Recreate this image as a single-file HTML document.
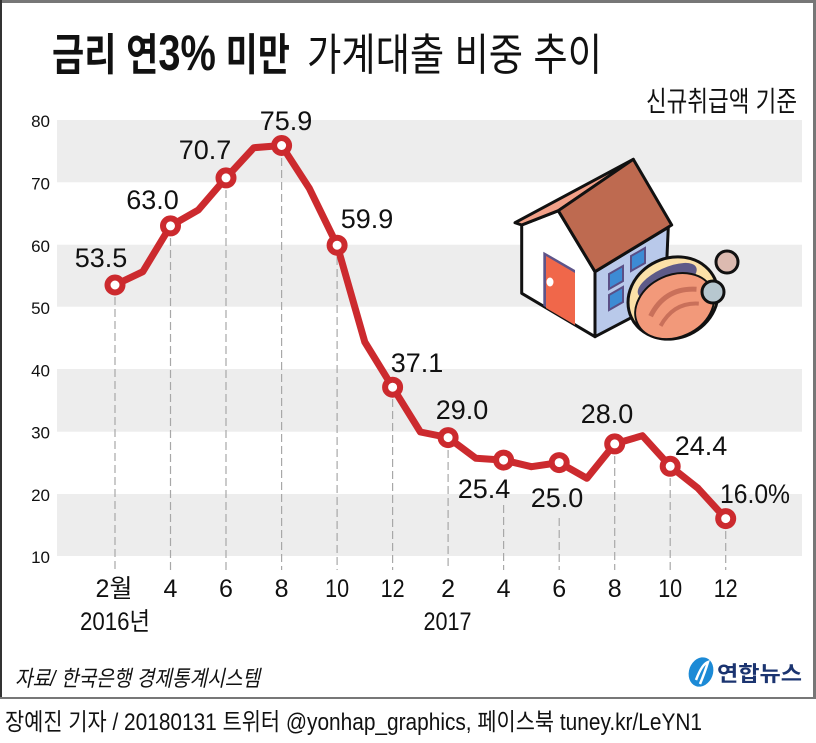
<!DOCTYPE html>
<html>
<head>
<meta charset="utf-8">
<style>
  html,body{margin:0;padding:0;background:#fff;}
  svg{display:block;}
  text{font-family:"Liberation Sans","Noto Sans CJK KR",sans-serif;fill:#111;}
</style>
</head>
<body>
<svg width="816" height="743" viewBox="0 0 816 743" xmlns="http://www.w3.org/2000/svg">
  <rect x="0" y="0" width="816" height="743" fill="#fff"/>
  <!-- frame -->
  <rect x="0" y="0" width="816" height="3" fill="#777"/>
  <rect x="0" y="0" width="2" height="699" fill="#333"/>
  <rect x="813" y="0" width="3" height="699" fill="#777"/>
  <rect x="0" y="697" width="816" height="2" fill="#777"/>

  <!-- title -->
  <text x="52" y="70" font-size="44" font-weight="bold" textLength="238" lengthAdjust="spacingAndGlyphs">금리 연<tspan font-size="50">3%</tspan> 미만</text>
  <text x="307" y="70" font-size="44" textLength="295" lengthAdjust="spacingAndGlyphs">가계대출 비중 추이</text>
  <text x="646" y="111" font-size="28" textLength="151" lengthAdjust="spacingAndGlyphs">신규취급액 기준</text>

  <!-- bands -->
  <g fill="#ededed">
    <rect x="57" y="120" width="745" height="62.3"/>
    <rect x="57" y="244.7" width="745" height="62"/>
    <rect x="57" y="369" width="745" height="62.7"/>
    <rect x="57" y="494" width="745" height="62"/>
  </g>

  <!-- y labels -->
  <g font-size="17" text-anchor="end">
    <text x="50" y="127">80</text>
    <text x="50" y="189.5">70</text>
    <text x="50" y="252">60</text>
    <text x="50" y="314">50</text>
    <text x="50" y="376.5">40</text>
    <text x="50" y="438.5">30</text>
    <text x="50" y="501">20</text>
    <text x="50" y="563">10</text>
  </g>

  <!-- house illustration -->
  <g stroke="#111" stroke-width="3" stroke-linejoin="round">
    <polygon points="521.7,225 558.3,210.7 595,271.7 595,336.7 521.7,293.3" fill="#fff"/>
    <polygon points="595,271.7 668.3,227.3 665,300 595,336.7" fill="#b9c9ea"/>
    <polygon points="515,222.7 633.3,159.3 558.3,210.7 521.7,225" fill="#f2a088"/>
    <polygon points="558.3,210.7 633.3,159.3 671.7,225 595,271.7" fill="#be6a50"/>
  </g>
  <!-- door -->
  <polygon points="543.3,251.7 575,270 575,325 543.3,305.7" fill="#5e5489"/>
  <polygon points="546,256 575,273 575,325 546,308" fill="#f0674a"/>
  <ellipse cx="550" cy="282" rx="3.5" ry="4.5" fill="#fff"/>
  <!-- windows -->
  <g fill="#3d8bd4" stroke="#5a4f86" stroke-width="2">
    <polygon points="609,274 623,266 623,281 609,289"/>
    <polygon points="631,256 645,248 645,263 631,271"/>
    <polygon points="609,295 623,287 623,302 609,310"/>
  </g>
  <!-- wallet -->
  <g transform="rotate(-25 673 298)">
    <ellipse cx="673" cy="298" rx="46" ry="40" fill="#fbe0a8" stroke="#111" stroke-width="3"/>
    <ellipse cx="675" cy="280" rx="32" ry="13" fill="#5e5a88"/>
    <ellipse cx="671" cy="306" rx="41" ry="31" fill="#f2997a" stroke="#111" stroke-width="2"/>
    <path d="M645,305 Q670,285 698,300" fill="none" stroke="#c9705a" stroke-width="5"/>
    <path d="M650,318 Q672,302 694,314" fill="none" stroke="#c9705a" stroke-width="4"/>
  </g>
  <circle cx="727" cy="262" r="11" fill="#dcbab0" stroke="#111" stroke-width="3"/>
  <circle cx="713" cy="292" r="11" fill="#b7c7cf" stroke="#111" stroke-width="3"/>

  <!-- dashed guides -->
  <g stroke="#a8a8a8" stroke-width="1.2" stroke-dasharray="8,4" fill="none">
    <line x1="115" y1="297" x2="115" y2="570"/>
    <line x1="170.5" y1="238" x2="170.5" y2="570"/>
    <line x1="226" y1="190" x2="226" y2="570"/>
    <line x1="281.6" y1="158" x2="281.6" y2="570"/>
    <line x1="337.1" y1="257" x2="337.1" y2="570"/>
    <line x1="392.6" y1="399" x2="392.6" y2="570"/>
    <line x1="448.1" y1="450" x2="448.1" y2="570"/>
    <line x1="503.6" y1="505" x2="503.6" y2="570"/>
    <line x1="559.2" y1="518" x2="559.2" y2="570"/>
    <line x1="614.7" y1="456" x2="614.7" y2="570"/>
    <line x1="670.2" y1="478" x2="670.2" y2="570"/>
    <line x1="725.7" y1="531" x2="725.7" y2="570"/>
  </g>

  <!-- data line -->
  <polyline fill="none" stroke="#cc2a2e" stroke-width="7" stroke-linejoin="round" stroke-linecap="round"
    points="115,285 142.8,271.7 170.5,225.9 198.3,210 226,177.9 253.8,147.7 281.6,145.5 309.3,188.3 337.1,245.2 364.8,342 392.6,387.2 420.4,432 448.1,437.6 475.9,458.3 503.6,460.1 531.4,466.7 559.2,462.6 586.9,478.3 614.7,443.9 642.4,435.7 670.2,466.3 698,488.3 725.7,518.6"/>
  <g fill="#fff" stroke="#cc2a2e" stroke-width="6">
    <circle cx="115" cy="285" r="7.5"/>
    <circle cx="170.5" cy="225.9" r="7.5"/>
    <circle cx="226" cy="177.9" r="7.5"/>
    <circle cx="281.6" cy="145.5" r="7.5"/>
    <circle cx="337.1" cy="245.2" r="7.5"/>
    <circle cx="392.6" cy="387.2" r="7.5"/>
    <circle cx="448.1" cy="437.6" r="7.5"/>
    <circle cx="503.6" cy="460.1" r="7.5"/>
    <circle cx="559.2" cy="462.6" r="7.5"/>
    <circle cx="614.7" cy="443.9" r="7.5"/>
    <circle cx="670.2" cy="466.3" r="7.5"/>
    <circle cx="725.7" cy="518.6" r="7.5"/>
  </g>

  <!-- data labels -->
  <g font-size="27" text-anchor="middle">
    <text x="101" y="267">53.5</text>
    <text x="152.5" y="209">63.0</text>
    <text x="205" y="159">70.7</text>
    <text x="286" y="130">75.9</text>
    <text x="367" y="228">59.9</text>
    <text x="417" y="372">37.1</text>
    <text x="462" y="419">29.0</text>
    <text x="484" y="498">25.4</text>
    <text x="557" y="507">25.0</text>
    <text x="607" y="423">28.0</text>
    <text x="701" y="455">24.4</text>
  </g>
  <text x="720" y="503" font-size="27" textLength="70" lengthAdjust="spacingAndGlyphs">16.0%</text>

  <!-- x labels -->
  <g font-size="25" text-anchor="middle">
    <text x="114" y="597">2월</text>
    <text x="170.5" y="597">4</text>
    <text x="226" y="597">6</text>
    <text x="281.6" y="597">8</text>
    <text x="337.1" y="597" textLength="24" lengthAdjust="spacingAndGlyphs">10</text>
    <text x="392.6" y="597" textLength="24" lengthAdjust="spacingAndGlyphs">12</text>
    <text x="448.1" y="597">2</text>
    <text x="503.6" y="597">4</text>
    <text x="559.2" y="597">6</text>
    <text x="614.7" y="597">8</text>
    <text x="670.2" y="597" textLength="24" lengthAdjust="spacingAndGlyphs">10</text>
    <text x="725.7" y="597" textLength="24" lengthAdjust="spacingAndGlyphs">12</text>
    <text x="115" y="630" textLength="70" lengthAdjust="spacingAndGlyphs">2016년</text>
    <text x="447.5" y="630" textLength="48" lengthAdjust="spacingAndGlyphs">2017</text>
  </g>

  <!-- source -->
  <text x="15" y="686" font-size="22" font-style="italic" textLength="245" lengthAdjust="spacingAndGlyphs" transform="skewX(0)">자료/ 한국은행 경제통계시스템</text>

  <!-- logo -->
  <ellipse cx="701" cy="672" rx="12" ry="15" fill="#1c8ad6" transform="rotate(20 701 672)"/>
  <path d="M696,680 Q702,664 708,662 Q705,672 700,684" fill="none" stroke="#fff" stroke-width="2.5"/>
  <text x="717" y="681" font-size="21" font-weight="bold" fill="#1b3470" style="fill:#1b3470" textLength="85" lengthAdjust="spacingAndGlyphs">연합뉴스</text>

  <!-- footer -->
  <text x="5" y="730" font-size="24" textLength="697" lengthAdjust="spacingAndGlyphs">장예진 기자 / 20180131 트위터 @yonhap_graphics, 페이스북 tuney.kr/LeYN1</text>
</svg>
</body>
</html>
